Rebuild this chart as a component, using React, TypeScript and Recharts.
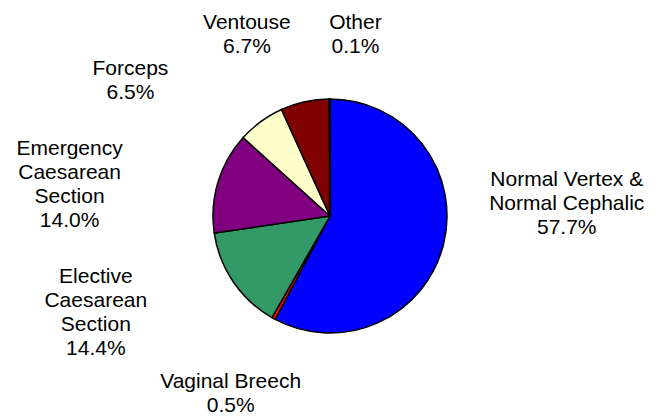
import React from 'react'
import {Cell, Pie, PieChart} from 'recharts'

// delivery methods, clockwise from 12 o'clock
const methods = [
  'Normal Vertex &\nNormal Cephalic',
  'Vaginal Breech',
  'Elective\nCaesarean\nSection',
  'Emergency\nCaesarean\nSection',
  'Forceps',
  'Ventouse',
  'Other'
]
const shares = [57.7, 0.5, 14.4, 14.0, 6.5, 6.7, 0.1]
const colors = ['#0000FF', '#FF0000', '#339966', '#800080', '#FFFFCC', '#800000', '#000000']

// label placement: nudge off the radial point (outerRadius + 60)
const labelNudge = [
  [65, -56],
  [-14, 21],
  [-88, -4],
  [-91, 19],
  [-95, 6],
  [-45, -10],
  [26, -6]
]

const data = methods.map((name, i) => ({name, value: shares[i]}))

const RADIAN = Math.PI / 180
const LINE_H = 24

const renderLabel = ({cx, cy, midAngle, outerRadius, index, value}) => {
  const r = outerRadius + 60
  const x = cx + r * Math.cos(-midAngle * RADIAN) + labelNudge[index][0]
  const y = cy + r * Math.sin(-midAngle * RADIAN) + labelNudge[index][1]
  const lines = methods[index].split('\n').concat([value.toFixed(1) + '%'])
  const firstY = y - ((lines.length - 1) * LINE_H) / 2 + 7.5
  return (
    <text key={`lbl-${index}`} x={x} y={firstY} textAnchor="middle" fill="#000" fontSize={21}
          fontFamily="'Liberation Sans', Arial, sans-serif">
      {lines.map((ln, i) => (
        <tspan key={i} x={x} y={firstY + i * LINE_H}>{ln}</tspan>
      ))}
    </text>
  )
}

export default function App() {
  return (
    <div style={{position: 'absolute', left: 0, top: 0, background: '#fff'}}>
      <PieChart width={665} height={416} margin={{top: 0, right: 0, bottom: 0, left: 0}}>
        <Pie data={data} dataKey="value" nameKey="name" cx={330} cy={216} outerRadius={117}
             startAngle={90} endAngle={-270} isAnimationActive={false}
             label={renderLabel} labelLine={false} stroke="#000" strokeWidth={1.5}>
          {data.map((d, i) => (
            <Cell key={`cell-${i}`} fill={colors[i]} stroke="#000"/>
          ))}
        </Pie>
      </PieChart>
    </div>
  )
}
